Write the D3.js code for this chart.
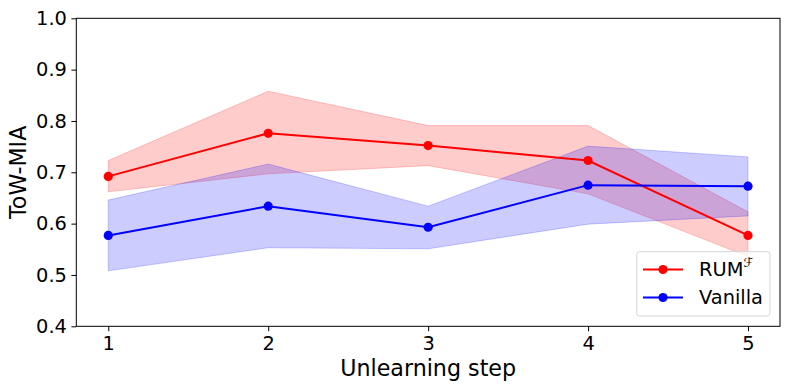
<!DOCTYPE html>
<html>
<head>
<meta charset="utf-8">
<script src="https://cdn.jsdelivr.net/npm/d3@7/dist/d3.min.js"></script>
<style>
  body { margin: 0; background: #fff; }
  text { font-family: "DejaVu Sans", sans-serif; fill: #000; }
</style>
</head>
<body>
<div id="container"></div>
<script>
// data
const steps = [1, 2, 3, 4, 5];
const rumMean = [0.692, 0.776, 0.752, 0.723, 0.577];
const rumLow = [0.662, 0.697, 0.713, 0.658, 0.536];
const rumHigh = [0.723, 0.858, 0.791, 0.791, 0.623];
const vanMean = [0.577, 0.634, 0.593, 0.675, 0.673];
const vanLow = [0.508, 0.553, 0.551, 0.599, 0.615];
const vanHigh = [0.646, 0.716, 0.634, 0.751, 0.730];
const yTicks = [0.4, 0.5, 0.6, 0.7, 0.8, 0.9, 1.0];

const width = 790;
const height = 390;
const marginLeft = 76.3;
const marginRight = 10;
const marginTop = 18.3;
const marginBottom = 63.7;

const svg = d3.select("#container")
    .append("svg")
    .attr("width", width)
    .attr("height", height);

const x = d3.scaleLinear()
    .domain([0.8, 5.2])
    .range([marginLeft, width - marginRight]);

const y = d3.scaleLinear()
    .domain([0.4, 1.0])
    .range([height - marginBottom, marginTop]);

// series: band + line + markers
const series = [
    {name: "RUM", color: "#ff0000", fill: "rgba(255,0,0,0.2)", mean: rumMean, low: rumLow, high: rumHigh},
    {name: "Vanilla", color: "#0000ff", fill: "rgba(0,0,255,0.2)", mean: vanMean, low: vanLow, high: vanHigh}
];

const area = d3.area()
    .x(function(d) { return x(d.s); })
    .y0(function(d) { return y(d.lo); })
    .y1(function(d) { return y(d.hi); });

const line = d3.line()
    .x(function(d) { return x(d.s); })
    .y(function(d) { return y(d.m); });

series.forEach(function(ser) {
    const pts = steps.map(function(s, i) {
        return {s: s, m: ser.mean[i], lo: ser.low[i], hi: ser.high[i]};
    });
    ser.pts = pts;
    svg.append("path")
        .datum(pts)
        .attr("d", area)
        .attr("fill", ser.fill)
        .attr("stroke", ser.fill)
        .attr("stroke-width", 1);
});

series.forEach(function(ser) {
    svg.append("path")
        .datum(ser.pts)
        .attr("d", line)
        .attr("fill", "none")
        .attr("stroke", ser.color)
        .attr("stroke-width", 2);
    svg.selectAll(null)
        .data(ser.pts)
        .enter()
        .append("circle")
        .attr("cx", function(d) { return x(d.s); })
        .attr("cy", function(d) { return y(d.m); })
        .attr("r", 4.6)
        .attr("fill", ser.color);
});

// axes
const xAxis = svg.append("g")
    .attr("transform", "translate(0," + (height - marginBottom) + ")")
    .call(d3.axisBottom(x).tickValues(steps).tickSize(4.9).tickPadding(5.5).tickFormat(d3.format("d")));
const yAxis = svg.append("g")
    .attr("transform", "translate(" + marginLeft + ",0)")
    .call(d3.axisLeft(y).tickValues(yTicks).tickSize(4.9).tickPadding(4.5).tickFormat(d3.format(".1f")));

[xAxis, yAxis].forEach(function(g) {
    g.select(".domain").remove();
    g.selectAll("line").attr("stroke", "#000").attr("stroke-width", 1);
    g.selectAll("text").style("font-size", "19.4px").attr("fill", "#000");
});

// frame
svg.append("rect")
    .attr("x", marginLeft)
    .attr("y", marginTop)
    .attr("width", width - marginRight - marginLeft)
    .attr("height", height - marginBottom - marginTop)
    .attr("fill", "none")
    .attr("stroke", "#000")
    .attr("stroke-width", 1);

// axis labels
svg.append("text")
    .attr("x", x(3))
    .attr("y", 376)
    .attr("text-anchor", "middle")
    .style("font-size", "22.2px")
    .text("Unlearning step");

svg.append("text")
    .attr("transform", "translate(25.5," + y(0.7) + ") rotate(-90)")
    .attr("text-anchor", "middle")
    .style("font-size", "22.2px")
    .text("ToW-MIA");

// legend
const legend = svg.append("g");
legend.append("rect")
    .attr("x", 636.7)
    .attr("y", 251.7)
    .attr("width", 133.3)
    .attr("height", 64.3)
    .attr("rx", 3)
    .attr("fill", "rgba(255,255,255,0.8)")
    .attr("stroke", "#d6d6d6")
    .attr("stroke-width", 1);

series.forEach(function(ser, i) {
    const cy = 269.5 + i * 28;
    legend.append("line")
        .attr("x1", 643).attr("x2", 683)
        .attr("y1", cy).attr("y2", cy)
        .attr("stroke", ser.color)
        .attr("stroke-width", 2);
    legend.append("circle")
        .attr("cx", 663).attr("cy", cy).attr("r", 4.6)
        .attr("fill", ser.color);
    const t = legend.append("text")
        .attr("x", 699)
        .attr("y", cy + 6.3)
        .style("font-size", "19.4px");
    if (ser.name === "RUM") {
        t.append("tspan").text("RUM");
        t.append("tspan")
            .attr("dy", -9)
            .style("font-size", "12.5px")
            .text("ℱ");
    } else {
        t.text(ser.name);
    }
});
</script>
</body>
</html>
